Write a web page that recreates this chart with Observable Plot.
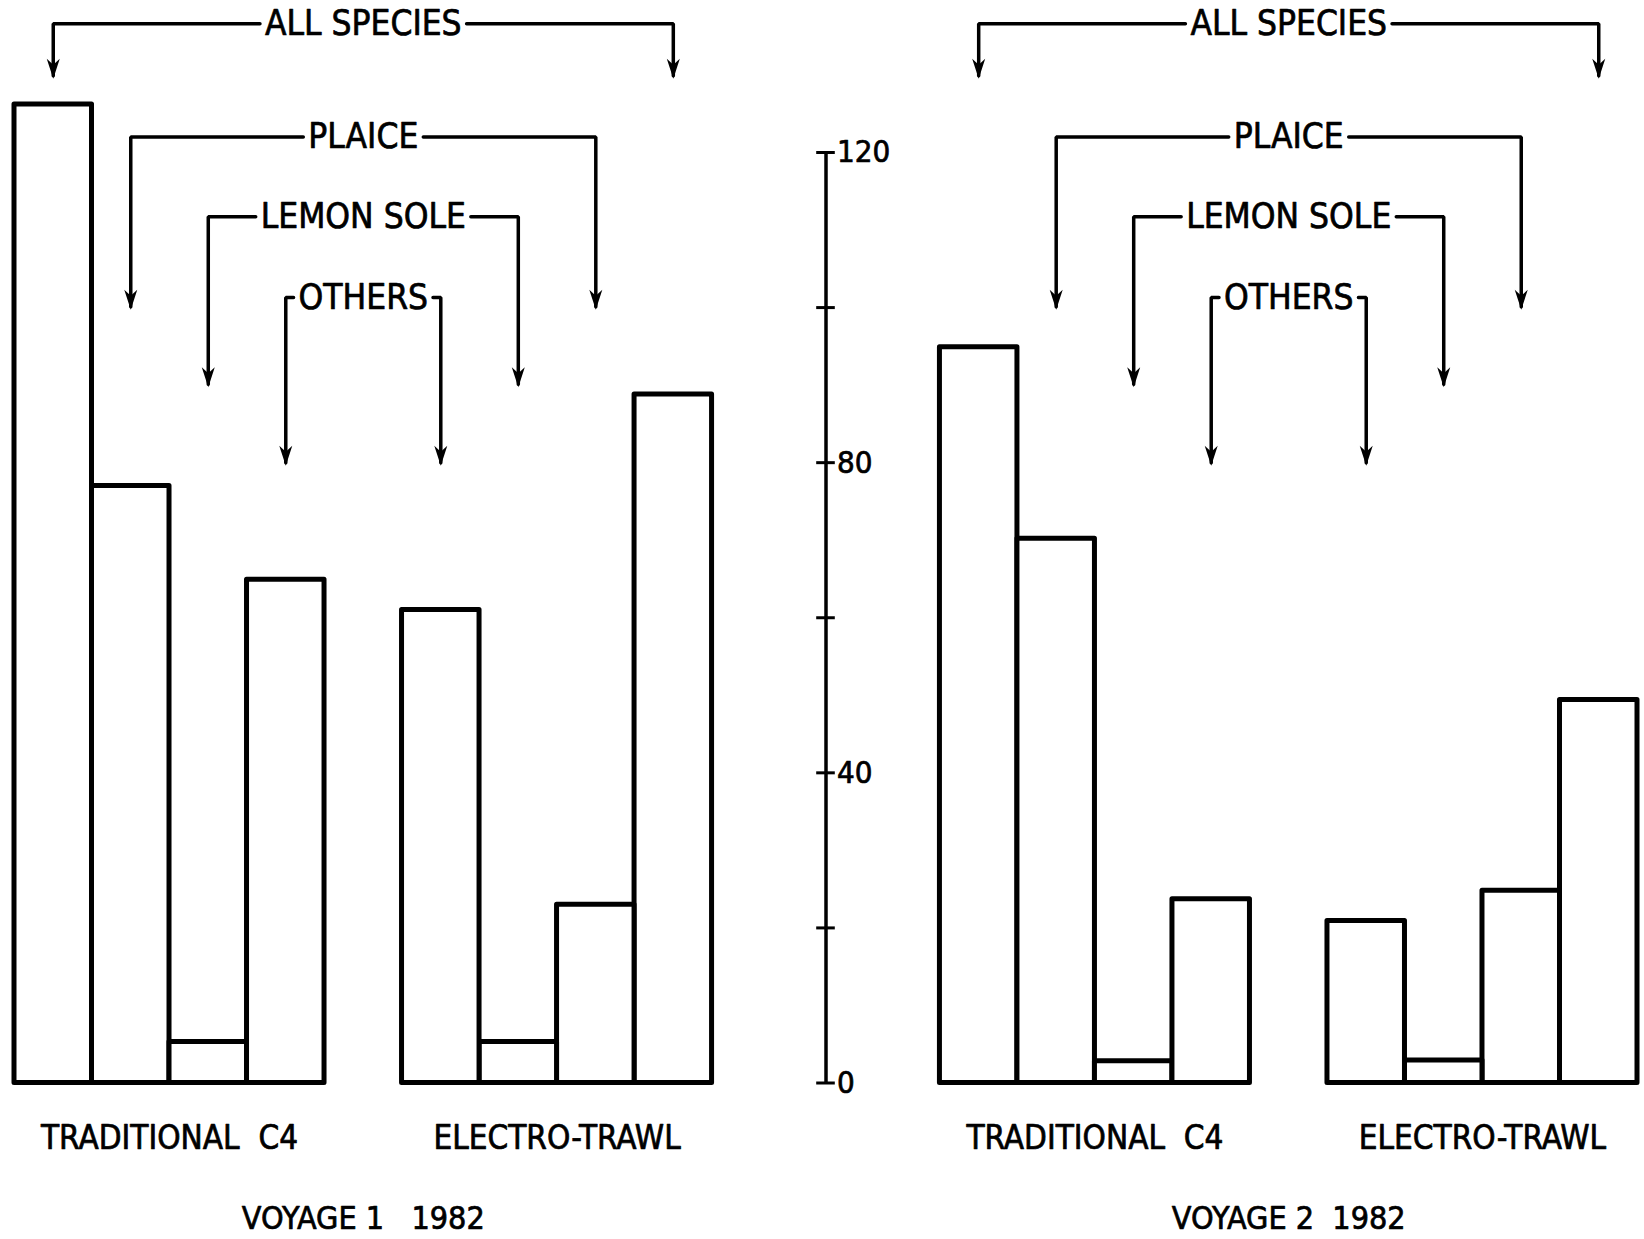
<!DOCTYPE html>
<html>
<head>
<meta charset="utf-8">
<script src="https://cdn.jsdelivr.net/npm/d3@7"></script>
<script src="https://cdn.jsdelivr.net/npm/@observablehq/plot@0.6"></script>
<style>
  html, body { margin: 0; padding: 0; background: #fff; }
  svg text { white-space: pre; }
</style>
</head>
<body>
<div id="chart"></div>
<script>
// ---- data ----
const species = ["ALL SPECIES", "PLAICE", "LEMON SOLE", "OTHERS"];
const gears = ["TRADITIONAL  C4", "ELECTRO-TRAWL"];
const voyages = ["VOYAGE 1   1982", "VOYAGE 2  1982"];
// values in species order: all species, plaice, lemon sole, others
const voyage1Traditional = [126.2, 77.0, 5.3, 64.9];
const voyage1Electro     = [88.8, 23.0, 5.3, 61.0];
const voyage2Traditional = [94.9, 70.2, 2.8, 23.7];
const voyage2Electro     = [49.4, 24.8, 2.9, 20.9];
const yTicks = [0, 20, 40, 60, 80, 100, 120];
const yTickLabels = [0, 40, 80, 120];

// ---- layout (in slot units along x, data units along y) ----
const W = 1644, H = 1239, mLeft = 14, mRight = 7, mTop = 152, mBottom = 156.5;
const panelOffset = 11.94;                  // start of second voyage panel
const xMax = panelOffset + 9;
const axisSlot = 9 + (panelOffset - 9) / 2; // central value axis
const bracketLevel = [136.6, 122.0, 111.7, 101.3];
const arrowTip = [129.9, 100.1, 90.1, 80.0];
const gearLabelLevel = -7.1;
const voyageLabelLevel = -17.5;
const font = '"DejaVu Sans Condensed", "Liberation Sans Narrow", sans-serif';
const bracketFontSize = 35;

// text width measurement to leave a gap in each bracket line for its label
const measureCtx = document.createElement("canvas").getContext("2d");
measureCtx.font = `${bracketFontSize}px ${font}`;
const pxPerSlot = (W - mLeft - mRight) / xMax;

const values = [[voyage1Traditional, voyage1Electro], [voyage2Traditional, voyage2Electro]];
const slotOf = (g, s) => (g === 0 ? s : 8 - s);

const bars = [];
const brackets = [];
const heads = [];
const bracketLabels = [];
const gearLabels = [];
const voyageLabels = [];
voyages.forEach((v, vi) => {
  const base = vi * panelOffset;
  gears.forEach((g, gi) => {
    species.forEach((s, si) => {
      bars.push({voyage: v, gear: g, species: s, slot: base + slotOf(gi, si), value: values[vi][gi][si]});
    });
    gearLabels.push({text: g, x: base + (gi === 0 ? 2 : 7)});
  });
  species.forEach((s, si) => {
    const xl = base + slotOf(0, si) + 0.5;
    const xr = base + slotOf(1, si) + 0.5;
    const cx = (xl + xr) / 2;
    const half = (measureCtx.measureText(s).width / 2 + 5) / pxPerSlot;
    brackets.push({key: v + s + "L", x: xl, y: arrowTip[si]});
    brackets.push({key: v + s + "L", x: xl, y: bracketLevel[si]});
    brackets.push({key: v + s + "L", x: cx - half, y: bracketLevel[si]});
    brackets.push({key: v + s + "R", x: cx + half, y: bracketLevel[si]});
    brackets.push({key: v + s + "R", x: xr, y: bracketLevel[si]});
    brackets.push({key: v + s + "R", x: xr, y: arrowTip[si]});
    heads.push({x: xl, y: arrowTip[si]});
    heads.push({x: xr, y: arrowTip[si]});
    bracketLabels.push({text: s, x: cx, y: bracketLevel[si]});
  });
  voyageLabels.push({text: v, x: base + 4.5});
});

// downward barbed arrowhead, tip slightly below anchor
const arrowHead = {
  draw(ctx) {
    ctx.moveTo(0, 3);
    ctx.lineTo(-6.5, -17);
    ctx.lineTo(0, -11);
    ctx.lineTo(6.5, -17);
    ctx.closePath();
  }
};

const textStyle = {fill: "black", stroke: "black", strokeWidth: 0.7, lineAnchor: "middle"};

const chart = Plot.plot({
  width: W,
  height: H,
  marginLeft: mLeft,
  marginRight: mRight,
  marginTop: mTop,
  marginBottom: mBottom,
  x: {domain: [0, xMax], axis: null},
  y: {domain: [0, 120], axis: null},
  style: {background: "white", fontFamily: font, color: "black"},
  marks: [
    Plot.rect(bars, {x1: "slot", x2: d => d.slot + 1, y1: 0, y2: "value",
      fill: "white", stroke: "black", strokeWidth: 5, strokeLinejoin: "round"}),
    Plot.line(brackets, {x: "x", y: "y", z: "key", stroke: "black", strokeWidth: 3.5,
      strokeLinejoin: "miter", curve: "linear"}),
    Plot.dot(heads, {x: "x", y: "y", symbol: arrowHead, r: 5, fill: "black", stroke: "none"}),
    Plot.text(bracketLabels, {x: "x", y: "y", text: "text", fontSize: bracketFontSize, ...textStyle}),
    // central value axis
    Plot.ruleX([axisSlot], {x: d => d, y1: 0, y2: 120, stroke: "black", strokeWidth: 3.5}),
    Plot.ruleY(yTicks, {y: d => d, x1: axisSlot - 0.12, x2: axisSlot + 0.12, stroke: "black", strokeWidth: 3}),
    Plot.text(yTickLabels, {x: axisSlot, y: d => d, text: d => String(d), textAnchor: "start",
      dx: 11, fontSize: 31, ...textStyle}),
    Plot.text(gearLabels, {x: "x", y: gearLabelLevel, text: "text", fontSize: 33, ...textStyle}),
    Plot.text(voyageLabels, {x: "x", y: voyageLabelLevel, text: "text", fontSize: 32, ...textStyle})
  ]
});
document.getElementById("chart").appendChild(chart);
</script>
</body>
</html>
